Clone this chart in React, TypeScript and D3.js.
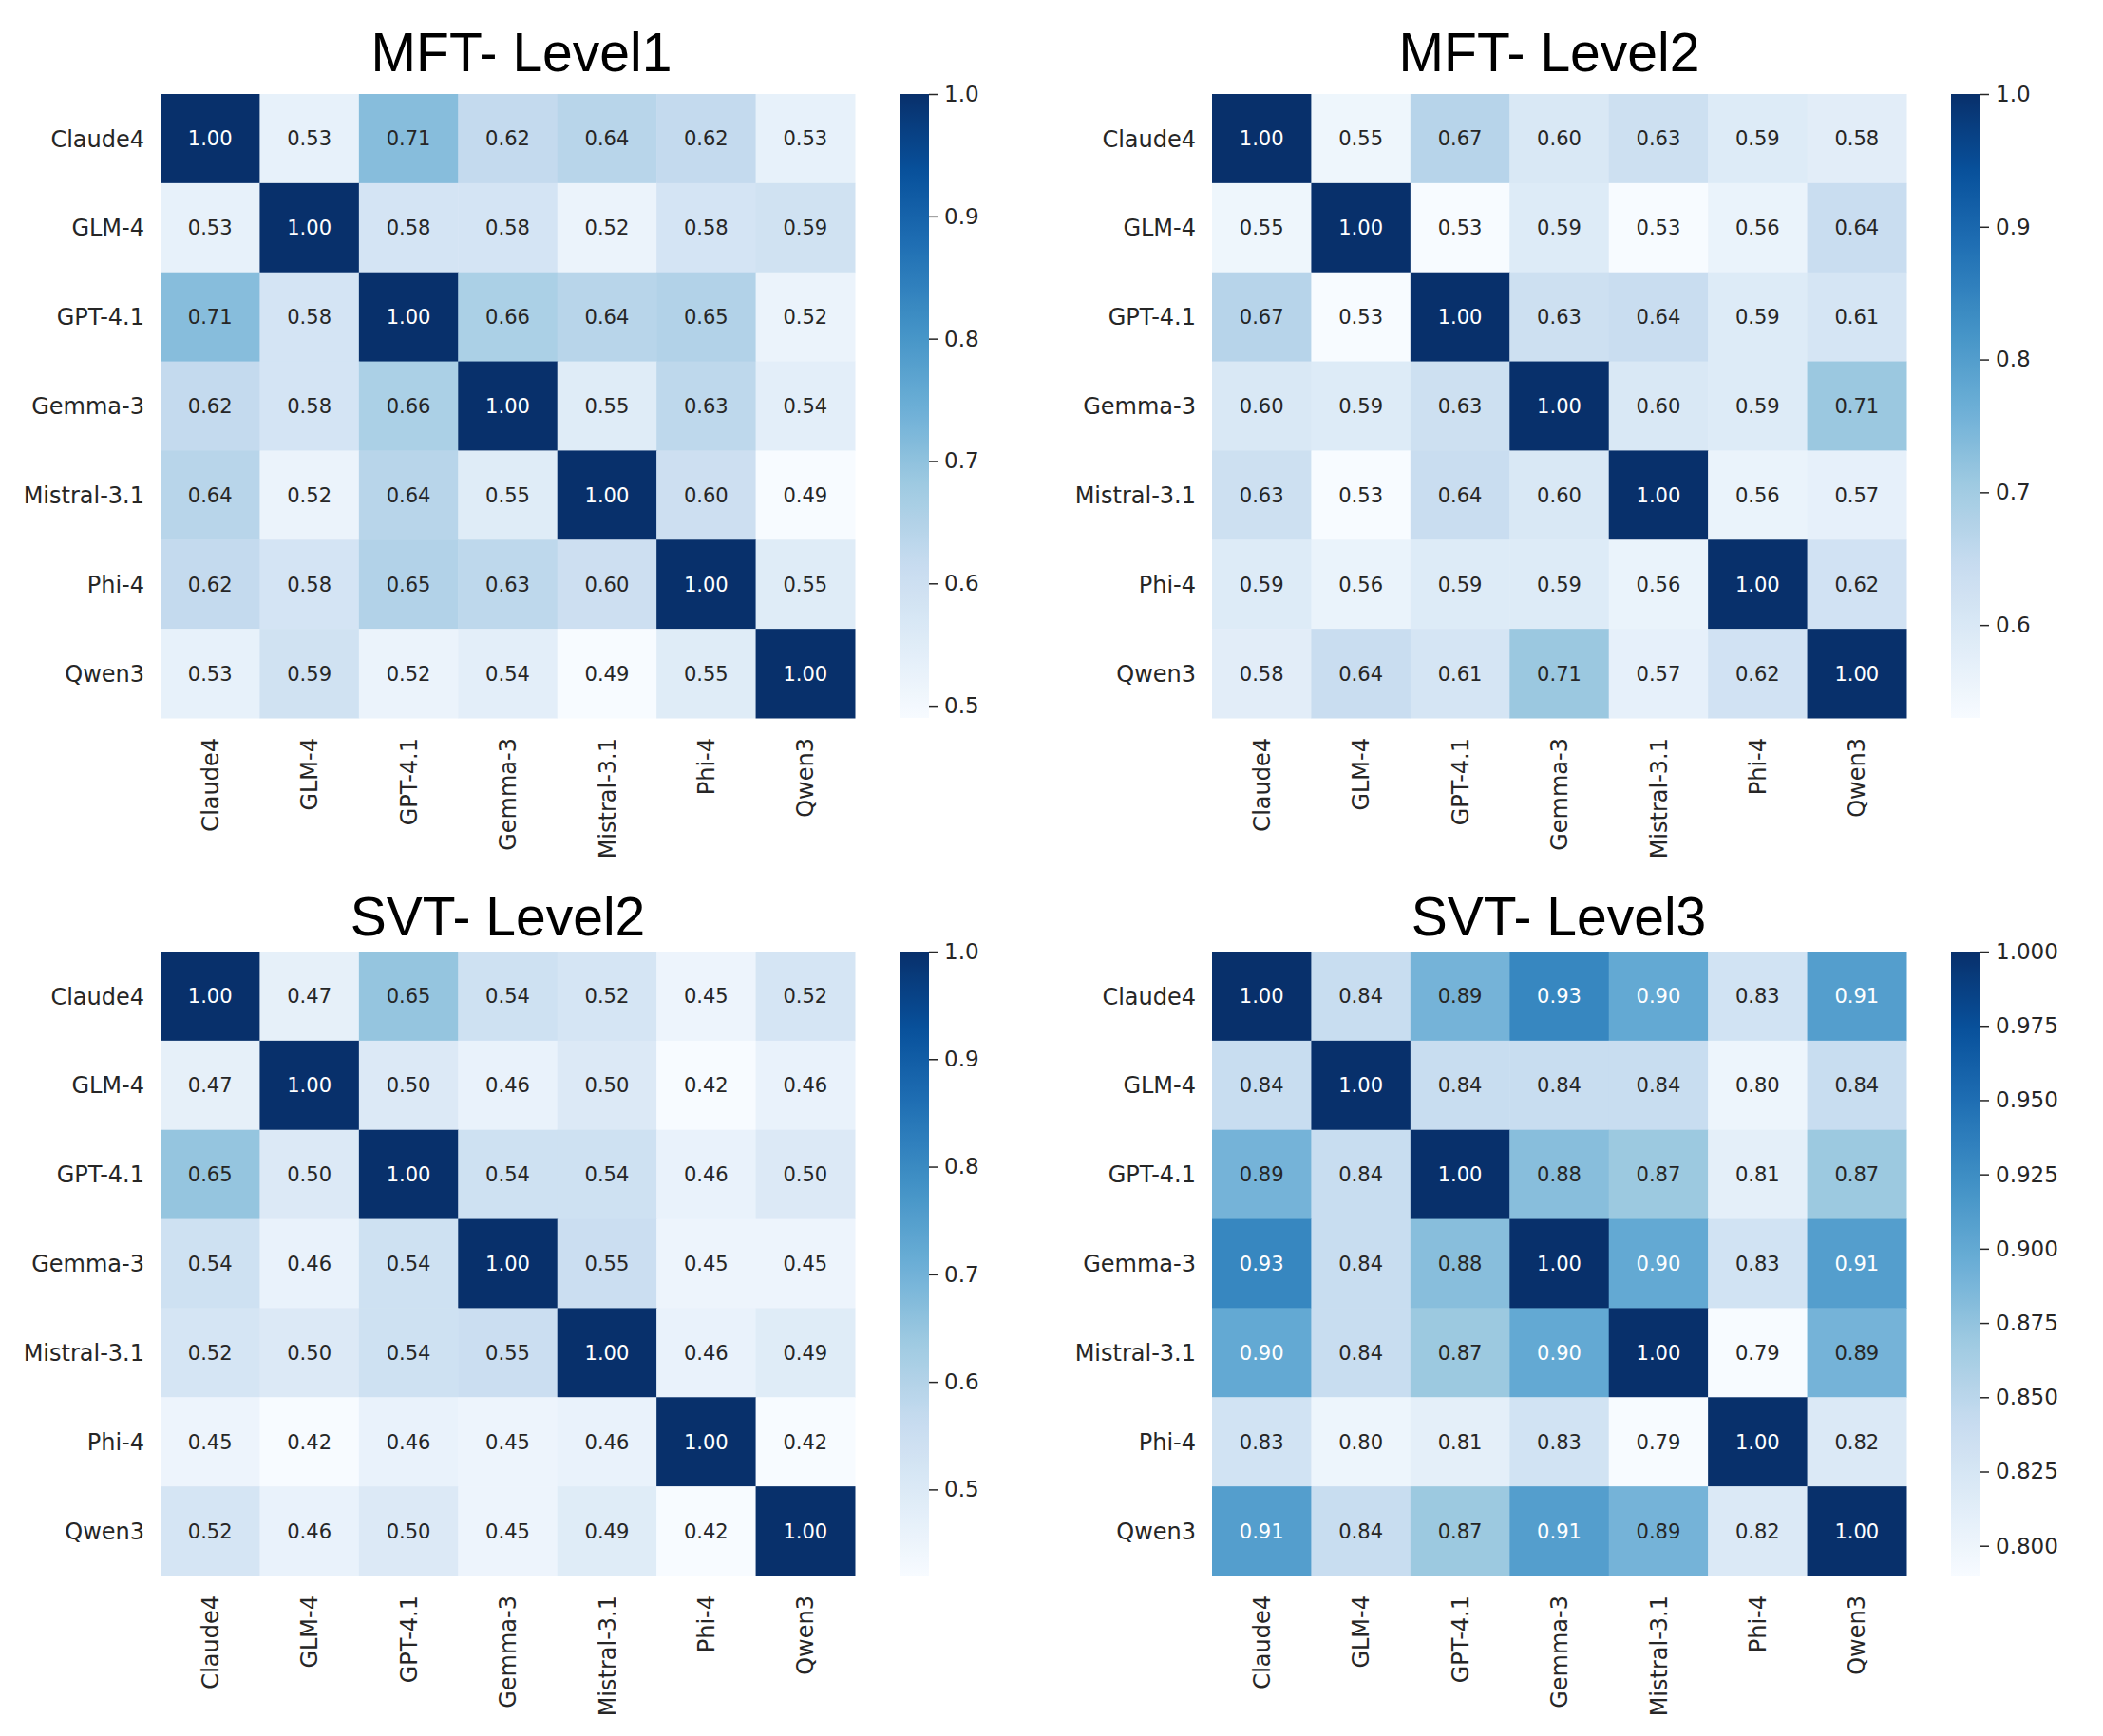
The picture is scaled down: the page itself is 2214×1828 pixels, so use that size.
// @ts-nocheck
import React from "react";
import * as d3 from "d3";

const models = ["Claude4", "GLM-4", "GPT-4.1", "Gemma-3", "Mistral-3.1", "Phi-4", "Qwen3"];

const mftLevel1 = [
  [1.0, 0.53, 0.71, 0.62, 0.64, 0.62, 0.53],
  [0.53, 1.0, 0.58, 0.58, 0.52, 0.58, 0.59],
  [0.71, 0.58, 1.0, 0.66, 0.64, 0.65, 0.52],
  [0.62, 0.58, 0.66, 1.0, 0.55, 0.63, 0.54],
  [0.64, 0.52, 0.64, 0.55, 1.0, 0.6, 0.49],
  [0.62, 0.58, 0.65, 0.63, 0.6, 1.0, 0.55],
  [0.53, 0.59, 0.52, 0.54, 0.49, 0.55, 1.0],
];

const mftLevel2 = [
  [1.0, 0.55, 0.67, 0.6, 0.63, 0.59, 0.58],
  [0.55, 1.0, 0.53, 0.59, 0.53, 0.56, 0.64],
  [0.67, 0.53, 1.0, 0.63, 0.64, 0.59, 0.61],
  [0.6, 0.59, 0.63, 1.0, 0.6, 0.59, 0.71],
  [0.63, 0.53, 0.64, 0.6, 1.0, 0.56, 0.57],
  [0.59, 0.56, 0.59, 0.59, 0.56, 1.0, 0.62],
  [0.58, 0.64, 0.61, 0.71, 0.57, 0.62, 1.0],
];

const svtLevel2 = [
  [1.0, 0.47, 0.65, 0.54, 0.52, 0.45, 0.52],
  [0.47, 1.0, 0.5, 0.46, 0.5, 0.42, 0.46],
  [0.65, 0.5, 1.0, 0.54, 0.54, 0.46, 0.5],
  [0.54, 0.46, 0.54, 1.0, 0.55, 0.45, 0.45],
  [0.52, 0.5, 0.54, 0.55, 1.0, 0.46, 0.49],
  [0.45, 0.42, 0.46, 0.45, 0.46, 1.0, 0.42],
  [0.52, 0.46, 0.5, 0.45, 0.49, 0.42, 1.0],
];

const svtLevel3 = [
  [1.0, 0.84, 0.89, 0.93, 0.9, 0.83, 0.91],
  [0.84, 1.0, 0.84, 0.84, 0.84, 0.8, 0.84],
  [0.89, 0.84, 1.0, 0.88, 0.87, 0.81, 0.87],
  [0.93, 0.84, 0.88, 1.0, 0.9, 0.83, 0.91],
  [0.9, 0.84, 0.87, 0.9, 1.0, 0.79, 0.89],
  [0.83, 0.8, 0.81, 0.83, 0.79, 1.0, 0.82],
  [0.91, 0.84, 0.87, 0.91, 0.89, 0.82, 1.0],
];

const ticksTenths = [0.5, 0.6, 0.7, 0.8, 0.9, 1.0];
const ticksMft2 = [0.6, 0.7, 0.8, 0.9, 1.0];
const ticksFine = [0.8, 0.825, 0.85, 0.875, 0.9, 0.925, 0.95, 0.975, 1.0];

// matplotlib "Blues" anchor colours
const blues = ["#f7fbff", "#deebf7", "#c6dbef", "#9ecae1", "#6baed6", "#4292c6", "#2171b5", "#08519c", "#08306b"];

const WIDTH = 2214;
const HEIGHT = 1828;
const MAP_W = 731;
const MAP_H = 657;
const CB_GAP = 47;
const CB_W = 31;

const panels = [
  { id: "p1", title: "MFT- Level1", values: mftLevel1, ticks: ticksTenths, fmt: ".1f", x: 169, y: 99, titleX: 549, titleY: 75 },
  { id: "p2", title: "MFT- Level2", values: mftLevel2, ticks: ticksMft2, fmt: ".1f", x: 1276, y: 99, titleX: 1631, titleY: 75 },
  { id: "p3", title: "SVT- Level2", values: svtLevel2, ticks: ticksTenths, fmt: ".1f", x: 169, y: 1002, titleX: 524, titleY: 985 },
  { id: "p4", title: "SVT- Level3", values: svtLevel3, ticks: ticksFine, fmt: ".3f", x: 1276, y: 1002, titleX: 1641, titleY: 985 },
];

// same rule seaborn uses to pick the annotation colour
const luminance = (c) => {
  const rgb = d3.rgb(c);
  const lin = [rgb.r, rgb.g, rgb.b].map((v) => {
    v = v / 255;
    return v <= 0.03928 ? v / 12.92 : Math.pow((v + 0.055) / 1.055, 2.4);
  });
  return 0.2126 * lin[0] + 0.7152 * lin[1] + 0.0722 * lin[2];
};

const App = () => {
  const svgRef = React.useRef(null);

  React.useEffect(() => {
    const svg = d3.select(svgRef.current);
    svg.selectAll("*").remove();
    const defs = svg.append("defs");

    panels.forEach((p) => {
      const flat = p.values.flat();
      const [lo, hi] = d3.extent(flat);
      const t = d3.scaleLinear().domain([lo, hi]).range([0, 1]);
      const cmap = d3.scaleLinear()
        .domain(blues.map((_, i) => i / (blues.length - 1)))
        .range(blues)
        .interpolate(d3.interpolateRgb);
      const color = (v) => cmap(t(v));

      const x = d3.scaleBand().domain(models).range([0, MAP_W]);
      const y = d3.scaleBand().domain(models).range([0, MAP_H]);

      const g = svg.append("g").attr("transform", `translate(${p.x},${p.y})`);

      // title
      svg.append("text")
        .attr("x", p.titleX)
        .attr("y", p.titleY)
        .attr("text-anchor", "middle")
        .attr("font-family", "'Liberation Sans', Arial, sans-serif")
        .attr("font-size", 57)
        .attr("fill", "#000")
        .text(p.title);

      const cells = [];
      p.values.forEach((row, i) => row.forEach((v, j) => cells.push({ r: models[i], c: models[j], v })));

      g.selectAll("rect.cell")
        .data(cells)
        .enter()
        .append("rect")
        .attr("x", (d) => x(d.c))
        .attr("y", (d) => y(d.r))
        .attr("width", x.bandwidth() + 0.5)
        .attr("height", y.bandwidth() + 0.5)
        .attr("fill", (d) => color(d.v));

      g.selectAll("text.annot")
        .data(cells)
        .enter()
        .append("text")
        .attr("x", (d) => x(d.c) + x.bandwidth() / 2)
        .attr("y", (d) => y(d.r) + y.bandwidth() / 2)
        .attr("dy", "0.36em")
        .attr("text-anchor", "middle")
        .attr("font-family", "'DejaVu Sans', sans-serif")
        .attr("font-size", 21)
        .attr("fill", (d) => (luminance(color(d.v)) > 0.408 ? "#262626" : "#ffffff"))
        .text((d) => d3.format(".2f")(d.v));

      // row labels
      g.selectAll("text.ylab")
        .data(models)
        .enter()
        .append("text")
        .attr("x", -17)
        .attr("y", (d) => y(d) + y.bandwidth() / 2)
        .attr("dy", "0.36em")
        .attr("text-anchor", "end")
        .attr("font-family", "'DejaVu Sans', sans-serif")
        .attr("font-size", 24)
        .attr("fill", "#262626")
        .text((d) => d);

      // column labels, rotated
      g.selectAll("text.xlab")
        .data(models)
        .enter()
        .append("text")
        .attr("transform", (d) => `translate(${x(d) + x.bandwidth() / 2},${MAP_H + 21}) rotate(-90)`)
        .attr("dy", "0.36em")
        .attr("text-anchor", "end")
        .attr("font-family", "'DejaVu Sans', sans-serif")
        .attr("font-size", 24)
        .attr("fill", "#262626")
        .text((d) => d);

      // colour bar
      const gradId = `grad-${p.id}`;
      const grad = defs.append("linearGradient")
        .attr("id", gradId)
        .attr("x1", 0).attr("y1", 1).attr("x2", 0).attr("y2", 0);
      d3.range(0, 1.0001, 0.02).forEach((s) => {
        grad.append("stop").attr("offset", s).attr("stop-color", cmap(s));
      });

      const cb = g.append("g").attr("transform", `translate(${MAP_W + CB_GAP},0)`);
      cb.append("rect")
        .attr("width", CB_W)
        .attr("height", MAP_H)
        .attr("fill", `url(#${gradId})`);

      const cbScale = d3.scaleLinear().domain([lo, hi]).range([MAP_H, 0]);
      const axis = d3.axisRight(cbScale)
        .tickValues(p.ticks)
        .tickSize(9)
        .tickPadding(7)
        .tickFormat(d3.format(p.fmt));
      const ax = cb.append("g").attr("transform", `translate(${CB_W},0)`).call(axis);
      ax.select(".domain").remove();
      ax.selectAll("line").attr("stroke", "#262626").attr("stroke-width", 1.5);
      ax.selectAll("text")
        .attr("fill", "#262626")
        .attr("font-family", "'DejaVu Sans', sans-serif")
        .attr("font-size", 23);
    });
  }, []);

  return (
    <svg
      ref={svgRef}
      width={WIDTH}
      height={HEIGHT}
      style={{ position: "absolute", left: 0, top: 0, background: "#fff" }}
    />
  );
};

export default App;
